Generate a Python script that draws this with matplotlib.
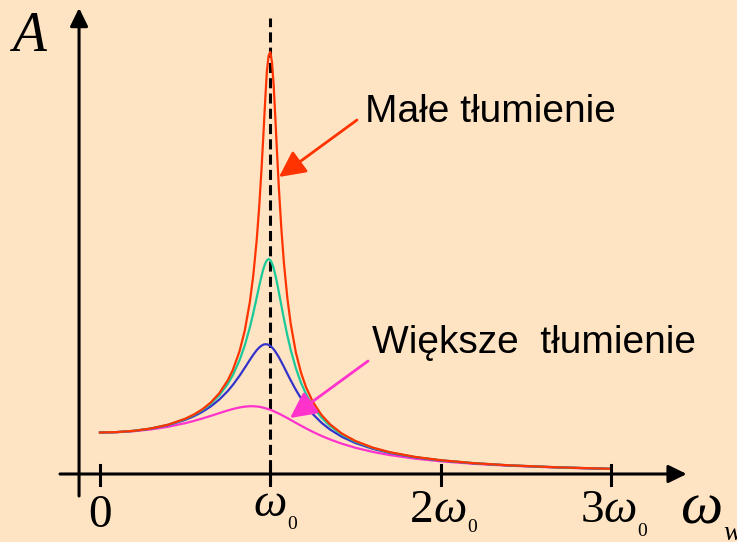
import matplotlib
matplotlib.use("Agg")
import matplotlib.pyplot as plt

# ---- data (amplitude in units of the static amplitude) ----
omega = [0, 0.1, 0.2, 0.3, 0.4, 0.5, 0.55, 0.6, 0.65, 0.7, 0.75, 0.78, 0.82, 0.85, 0.88,
         0.9, 0.92, 0.935, 0.95, 0.96, 0.97, 0.98, 0.99, 1.0, 1.01, 1.02, 1.03, 1.04, 1.05,
         1.065, 1.08, 1.1, 1.12, 1.15, 1.18, 1.21, 1.25, 1.3, 1.35, 1.42, 1.5, 1.6, 1.7,
         1.85, 2.0, 2.2, 2.4, 2.7, 3.0]
amp_small = [1.0, 1.010, 1.041, 1.098, 1.189, 1.331, 1.430, 1.556, 1.721, 1.944, 2.255, 2.507,
             2.966, 3.454, 4.146, 4.783, 5.629, 6.449, 7.454, 8.215, 9.000, 9.711, 10.08,
             10.17, 9.92, 9.357, 8.547, 7.707, 6.921, 5.904, 5.086, 4.245, 3.615, 2.930, 2.447,
             2.089, 1.738, 1.426, 1.201, 0.975, 0.795, 0.638, 0.527, 0.412, 0.333, 0.260,
             0.210, 0.159, 0.125]
amp_medium = [1.0, 1.010, 1.041, 1.097, 1.185, 1.322, 1.417, 1.537, 1.692, 1.895, 2.169, 2.382,
              2.746, 3.098, 3.535, 3.875, 4.247, 4.531, 4.796, 4.949, 5.070, 5.149, 5.179,
              5.155, 5.077, 4.952, 4.787, 4.595, 4.385, 4.059, 3.738, 3.340, 2.989, 2.550,
              2.201, 1.923, 1.633, 1.361, 1.159, 0.950, 0.779, 0.629, 0.521, 0.408, 0.331,
              0.259, 0.209, 0.158, 0.125]
amp_larger = [1.0, 1.010, 1.039, 1.093, 1.177, 1.303, 1.389, 1.495, 1.627, 1.792, 1.998, 2.146,
              2.371, 2.558, 2.750, 2.873, 2.982, 3.049, 3.097, 3.118, 3.127, 3.125, 3.112,
              3.086, 3.050, 3.004, 2.948, 2.884, 2.815, 2.701, 2.581, 2.417, 2.257, 2.029,
              1.825, 1.646, 1.443, 1.237, 1.074, 0.896, 0.746, 0.608, 0.508, 0.401, 0.326,
              0.256, 0.207, 0.158, 0.124]
amp_large = [1.0, 1.008, 1.032, 1.075, 1.138, 1.224, 1.277, 1.336, 1.400, 1.466, 1.531, 1.566,
             1.604, 1.623, 1.633, 1.633, 1.627, 1.619, 1.607, 1.597, 1.586, 1.574, 1.561,
             1.546, 1.530, 1.513, 1.494, 1.475, 1.456, 1.425, 1.392, 1.348, 1.302, 1.233,
             1.165, 1.099, 1.015, 0.919, 0.834, 0.730, 0.632, 0.534, 0.457, 0.370, 0.306,
             0.244, 0.200, 0.153, 0.122]
tick_values = [0, 1, 2, 3]
tick_prefix = ["0", "", "2", "3"]
label_small = "Małe tłumienie"
label_large = "Większe  tłumienie"

# ---- styling ----
BG = "#FFE4C4"
C_RED = "#FF3300"
C_GREEN = "#19C999"
C_BLUE = "#3333CC"
C_MAG = "#FF33CC"
SANS, SANS_SIZE = "Liberation Sans", 28
SERIF = "Liberation Serif"

fig = plt.figure(figsize=(7.37, 5.42), dpi=100, facecolor=BG)
ax = fig.add_axes([0, 0, 1, 1])
ax.set_facecolor(BG)
ax.set_xlim(-0.5872, 3.7405)
ax.set_ylim(-1.6386, 11.4217)
ax.axis("off")

# curves
ax.plot(omega, amp_large, color=C_MAG, lw=1.6, zorder=3)
ax.plot(omega, amp_larger, color=C_BLUE, lw=1.6, zorder=4)
ax.plot(omega, amp_medium, color=C_GREEN, lw=1.6, zorder=5)
ax.plot(omega, amp_small, color=C_RED, lw=1.6, zorder=6)

# dashed resonance line
ax.plot([1, 1], [-0.27, 11.0], color="black", lw=2.2, dashes=(3.3, 1.7), zorder=2)

# axes with arrows
arrow_kw = dict(arrowstyle="-|>,head_length=0.55,head_width=0.27", color="black",
                lw=2.2, mutation_scale=20, shrinkA=0, shrinkB=0)
ax.annotate("", xy=(3.445, 0), xytext=(-0.235, 0), arrowprops=arrow_kw, zorder=7)
ax.annotate("", xy=(-0.123, 11.23), xytext=(-0.123, -0.53), arrowprops=arrow_kw, zorder=7)

# ticks
for t in tick_values:
    ax.plot([t, t], [-0.27, 0.22], color="black", lw=2.2, zorder=7)

# tick labels
big = dict(family=SERIF, fontsize=34)
sub = dict(family=SERIF, fontsize=14, ha="left", va="bottom", textcoords="offset points")
ax.text(0, -1.277, "0", ha="center", va="baseline", **big)
w1 = ax.text(1.0, -1.012, "ω", ha="center", va="baseline", style="italic", **big)
ax.annotate("0", xy=(1, 0), xycoords=w1, xytext=(0, -5), **sub)
for t, p in zip(tick_values[2:], tick_prefix[2:]):
    d = ax.text(t - 0.18, -1.157, p, ha="left", va="baseline", **big)
    w = ax.annotate("ω", xy=(1, 0), xycoords=d, xytext=(0, 0), textcoords="offset points",
                    ha="left", va="bottom", style="italic", **big)
    ax.annotate("0", xy=(1, 0), xycoords=w, xytext=(0, -3 if t == 2 else -6), **sub)

# axis labels
ax.text(-0.517, 10.19, "A", ha="left", va="baseline", family=SERIF, style="italic", fontsize=40)
wl = ax.text(3.406, -1.181, "ω", ha="left", va="baseline", family=SERIF, style="italic",
             fontsize=43)
ax.annotate("w", xy=(1, 0), xycoords=wl, xytext=(1, -7), textcoords="offset points",
            ha="left", va="bottom", family=SERIF, style="italic", fontsize=20,
            annotation_clip=False)

# annotations
ax.text(1.556, 8.48, label_small, ha="left", va="baseline", family=SANS, fontsize=SANS_SIZE)
ax.text(1.597, 2.916, label_large, ha="left", va="baseline", family=SANS, fontsize=SANS_SIZE)
note_kw = dict(arrowstyle="-|>,head_length=0.8,head_width=0.4", lw=2.0,
               mutation_scale=20, shrinkA=0, shrinkB=0)
ax.annotate("", xy=(1.051, 7.157), xytext=(1.509, 8.53),
            arrowprops=dict(color=C_RED, **note_kw), zorder=8)
ax.annotate("", xy=(1.116, 1.349), xytext=(1.574, 2.723),
            arrowprops=dict(color=C_MAG, **note_kw), zorder=8)

fig.savefig("out.png", dpi=100, facecolor=BG)
